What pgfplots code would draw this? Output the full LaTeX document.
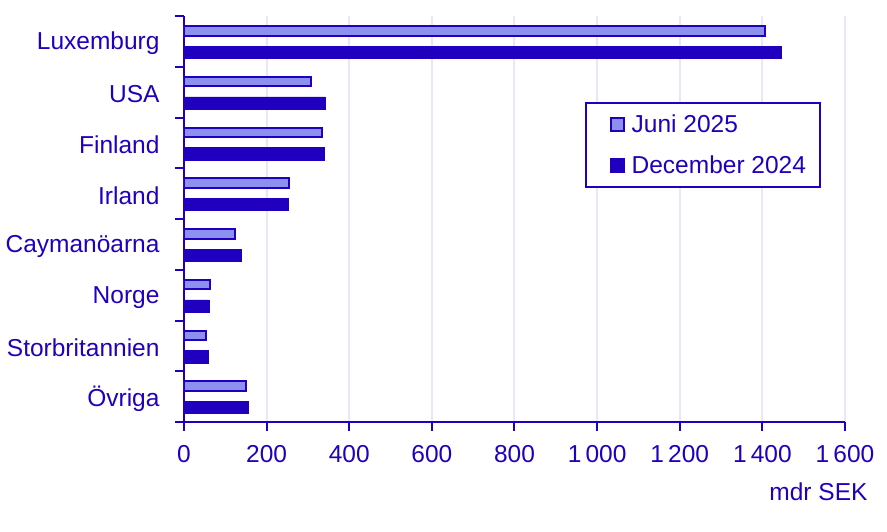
\documentclass[border=0pt]{standalone}
\usepackage{pgfplots}
\pgfplotsset{compat=1.18}
\usepackage{fontspec}
\setmainfont{Liberation Sans}
\definecolor{dk}{RGB}{32,0,190}
\definecolor{lt}{RGB}{140,145,240}
\definecolor{gr}{RGB}{232,232,250}
\begin{document}
\begin{tikzpicture}
\useasboundingbox (-184pt,-109pt) rectangle (703pt,422pt);
\begin{axis}[
  at={(0pt,0pt)}, anchor=south west,
  width=661pt, height=406pt, scale only axis,
  xmin=0, xmax=1600, ymin=0, ymax=8, y dir=reverse,
  axis x line*=bottom, axis y line*=left,
  axis line style={dk, line width=2pt, -},
  xtick={0,200,...,1600},
  ytick={0,1,...,8},
  yticklabels={},
  extra y ticks={0.5,1.5,...,7.5},
  extra y tick labels={Luxemburg,USA,Finland,Irland,Caymanöarna,Norge,Storbritannien,Övriga},
  extra y tick style={major tick length=0pt, yticklabel style={xshift=-21pt, yshift=-2pt}},
  tick align=outside,
  major tick length=8.5pt,
  tick style={dk, line width=2pt},
  xmajorgrids,
  major grid style={gr, line width=2pt},
  /pgf/number format/assume math mode=true,
  /pgf/number format/1000 sep={\,},
  ticklabel style={font=\fontsize{24.5}{29}\selectfont, text=dk},
  xticklabel style={yshift=-11pt},
  xlabel={mdr SEK},
  xlabel style={at={(axis description cs:1,0)}, anchor=east, xshift=26pt, yshift=-70pt, font=\fontsize{24.5}{29}\selectfont, text=dk},
  xbar,
  legend style={at={(0.9637,0.788)}, anchor=north east, draw=dk, line width=2pt, fill=white,
    inner xsep=14pt, inner ysep=12pt, row sep=21.5pt, column sep=7pt,
    nodes={inner sep=0pt, text=dk, font=\fontsize{24.5}{29}\selectfont}},
  legend cell align=left,
  legend image code/.code={\path (0pt,0pt); \draw[#1, line width=1.5pt] (10pt,-6.5pt) rectangle (23pt,6.5pt);},
]
\addplot[draw=dk, fill=lt, line width=2pt, bar width=9.4pt, bar shift=10.5pt]
  coordinates {(1406,0.5) (307,1.5) (334,2.5) (254,3.5) (123,4.5) (62,5.5) (53,6.5) (150,7.5)};
\addlegendentry{Juni 2025}
\addplot[draw=dk, fill=dk, line width=0.4pt, bar width=12.3pt, bar shift=-10.8pt]
  coordinates {(1445,0.5) (342,1.5) (339,2.5) (252,3.5) (138,4.5) (61,5.5) (58,6.5) (155,7.5)};
\addlegendentry{December 2024}
\end{axis}
\end{tikzpicture}
\end{document}
